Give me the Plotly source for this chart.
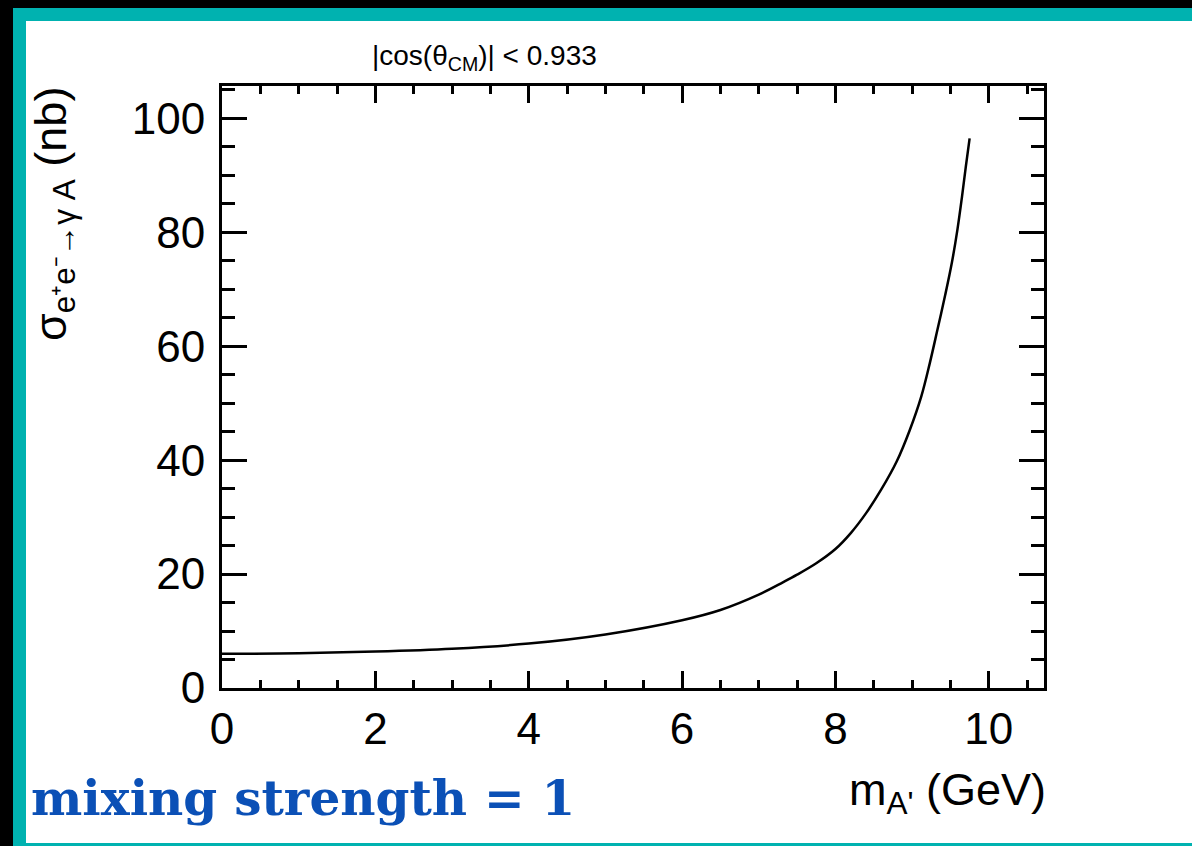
import plotly.graph_objects as go

# Data (m_A' in GeV, cross section in nb)
mass = [0, 1, 2, 3, 4, 5, 6, 6.5, 7, 7.32, 7.5, 7.75, 8, 8.2, 8.4, 8.6, 8.8,
        8.97, 9.12, 9.23, 9.33, 9.43, 9.52, 9.59, 9.65, 9.70, 9.75]
sigma = [6.0, 6.1, 6.4, 6.9, 7.8, 9.4, 11.9, 13.7, 16.4, 18.6, 19.9, 21.9,
         24.4, 27.2, 30.7, 34.9, 39.8, 45.3, 51.2, 57.0, 62.9, 68.9, 74.8,
         80.4, 86.2, 91.5, 96.5]
x_ticks = [0, 2, 4, 6, 8, 10]
y_ticks = [0, 20, 40, 60, 80, 100]

W, H = 1192, 846
L, R, T, B = 222, 1044, 86, 688
pw, ph = R - L, B - T


def px(xp):
    return (xp - L) / pw


def py(yp):
    return (B - yp) / ph


fig = go.Figure()
fig.add_trace(go.Scatter(x=mass, y=sigma, mode="lines",
                         line=dict(color="black", width=2.5, shape="spline",
                                   smoothing=1.0),
                         showlegend=False, hoverinfo="skip"))

font_sans = "Liberation Sans, Arial, sans-serif"
axis_common = dict(showgrid=False, zeroline=False, showline=True,
                   linecolor="black", linewidth=3, mirror="ticks",
                   ticks="inside", tickcolor="black", tickwidth=2.5,
                   tickfont=dict(family=font_sans, size=44, color="black"))

fig.update_xaxes(range=[0, 10.72], tickvals=x_ticks, ticklen=17,
                 minor=dict(dtick=0.5, ticklen=8, ticks="inside",
                            tickwidth=2.5, tickcolor="black"),
                 **axis_common)
fig.update_yaxes(range=[0, 105.7], tickvals=y_ticks, ticklen=25,
                 ticklabelstandoff=5,
                 minor=dict(dtick=5, ticklen=13, ticks="inside",
                            tickwidth=2.5, tickcolor="black"),
                 **axis_common)

shapes = [
    # black outer strips
    dict(type="rect", xref="paper", yref="paper", x0=px(0), x1=px(W), y0=py(0), y1=py(8),
         fillcolor="black", line_width=0, layer="below"),
    dict(type="rect", xref="paper", yref="paper", x0=px(0), x1=px(13), y0=py(0), y1=py(H),
         fillcolor="black", line_width=0, layer="below"),
    # teal frame
    dict(type="rect", xref="paper", yref="paper", x0=px(13), x1=px(W), y0=py(8), y1=py(21),
         fillcolor="#00b2b0", line_width=0, layer="below"),
    dict(type="rect", xref="paper", yref="paper", x0=px(13), x1=px(26), y0=py(8), y1=py(H),
         fillcolor="#00b2b0", line_width=0, layer="below"),
    dict(type="rect", xref="paper", yref="paper", x0=px(13), x1=px(W), y0=py(843), y1=py(H),
         fillcolor="#00b2b0", line_width=0, layer="below"),
]

annotations = [
    dict(text="|cos(θ<sub>CM</sub>)| < 0.933", xref="paper", yref="paper",
         x=px(484), y=py(58), xanchor="center", yanchor="middle", showarrow=False,
         font=dict(family=font_sans, size=28, color="black")),
    dict(text="m<sub>A'</sub> (GeV)", xref="paper", yref="paper",
         x=px(1048), y=py(792), xanchor="right", yanchor="middle", showarrow=False,
         font=dict(family=font_sans, size=45, color="black")),
    dict(text="σ<sub>e⁺e⁻→γ A</sub> (nb)", xref="paper", yref="paper",
         x=px(54), y=py(214), xanchor="center", yanchor="middle", showarrow=False,
         textangle=-90, font=dict(family=font_sans, size=45, color="black")),
    dict(text="<b>mixing strength = 1</b>", xref="paper", yref="paper",
         x=px(29), y=py(797), xanchor="left", yanchor="middle", showarrow=False,
         font=dict(family="DejaVu Serif, serif", size=48.5, color="#0b50b6")),
]

fig.update_layout(width=W, height=H,
                  margin=dict(l=L, r=W - R, t=T, b=H - B, pad=0),
                  paper_bgcolor="white", plot_bgcolor="white",
                  shapes=shapes, annotations=annotations)

fig.write_html("out.html",
               config={"displayModeBar": False},
               post_script="document.body.style.margin='0px';"
                           "document.body.style.overflow='hidden';")
